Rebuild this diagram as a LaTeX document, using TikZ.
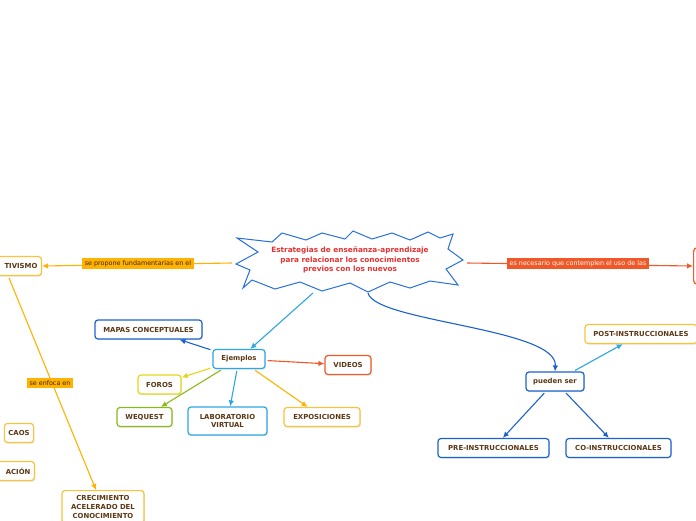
\documentclass[tikz,border=0pt]{standalone}
\usepackage{fontspec}
\setmainfont{DejaVu Sans}
\definecolor{mmblue}{RGB}{28,98,206}
\definecolor{mmsky}{RGB}{44,166,230}
\definecolor{mmorange}{RGB}{255,178,0}
\definecolor{mmgold}{RGB}{248,196,60}
\definecolor{mmred}{RGB}{240,88,40}
\definecolor{mmyellow}{RGB}{228,214,30}
\definecolor{mmgreen}{RGB}{138,184,30}
\definecolor{mmbrown}{RGB}{92,56,20}
\definecolor{mmtitle}{RGB}{228,50,50}
\definecolor{mmcloud}{RGB}{40,112,218}
\usetikzlibrary{arrows.meta,positioning,shadows}

\begin{document}
\begin{tikzpicture}[x=1pt,y=-1pt,
  mbox/.style={draw,fill=white,line width=1.2pt,rounded corners=3pt,minimum height=19pt,
    inner xsep=4pt,font=\fontsize{6.9}{8.8}\selectfont\bfseries,text=mmbrown,align=center,
    drop shadow={shadow xshift=0.8pt,shadow yshift=-1.2pt,opacity=0.2}},
  lbl/.style={fill=mmorange,inner xsep=3pt,inner ysep=2.5pt,font=\fontsize{6.4}{7}\selectfont,
    text=mmbrown!70!black},
  arr/.style={-{Latex[length=6pt,width=5.5pt]},line width=1.1pt},
  title/.style={font=\fontsize{7.3}{9.5}\selectfont\bfseries,text=mmtitle,align=center}
]
  \useasboundingbox (0,0) rectangle (696,520);
  \fill[white] (0,0) rectangle (696,520);
  \clip (0,0) rectangle (696,520);

  % central idea
  \draw[mmcloud,line width=1pt,fill=white,line join=miter]
    (237,238) -- (272,242) -- (282,233) -- (306,240) -- (322,233) -- (345,239)
    -- (353,231) -- (372,239) -- (392,233) -- (410,240) -- (428,232) -- (440,238)
    -- (453,234) -- (448,249) -- (463,260) -- (446,269) -- (458,285) -- (430,281)
    -- (410,288) -- (390,282) -- (368,292) -- (350,283) -- (322,291) -- (300,282)
    -- (275,289) -- (252,280) -- (243,288) -- (250,270) -- (236,264) -- (258,252)
    -- cycle;
  \node[title] (cloud) at (350,260) {Estrategias de enseñanza-aprendizaje\\para relacionar los conocimientos\\previos con los nuevos};
  \coordinate (cl) at (232,263);
  \coordinate (cr) at (467,263);
  \coordinate (cb1) at (313,293);
  \coordinate (cb2) at (368,293);

  % left branch
  \node[mbox,draw=mmgold,anchor=east,text width=80pt,align=right] (tiv) at (42,266) {TIVISMO};
  \node[mbox,draw=mmgold] (caos) at (19,433) {CAOS};
  \node[mbox,draw=mmgold,anchor=east,text width=60pt,align=right] (acion) at (35,471) {ACIÓN};
  \node[mbox,draw=mmgold,anchor=north,minimum width=82pt,inner ysep=5pt] (crec) at (103,490) {CRECIMIENTO\\ACELERADO DEL\\CONOCIMIENTO};
  \draw[arr,mmorange] (cl) -- (tiv.east);
  \node[lbl] (propone) at (138,263.5) {se propone fundamentarias en el};
  \coordinate (t1) at (9,278);
  \draw[arr,mmorange] (t1) -- ([xshift=-7pt]crec.north);
  \node[lbl] (enfoca) at (50,383) {se enfoca en};

  % right branch
  \node[draw=mmred,line width=1.2pt,rounded corners=4pt,minimum width=60pt,minimum height=37pt,
    anchor=west] (rbox) at (693,266) {};
  \draw[arr,mmred] (cr) -- (rbox.west);
  \node[lbl,fill=mmred,text=white] (necesario) at (578,263.5) {es necesario que contemplen el uso de las};

  % ejemplos
  \node[mbox,draw=mmsky,minimum width=52pt] (ejem) at (239,359) {Ejemplos};
  \node[mbox,draw=mmblue,minimum width=107pt] (mapas) at (148.5,329.5) {MAPAS CONCEPTUALES};
  \node[mbox,draw=mmred,minimum width=46pt] (videos) at (348,365) {VIDEOS};
  \node[mbox,draw=mmyellow,minimum width=43pt] (foros) at (159.5,384.5) {FOROS};
  \node[mbox,draw=mmgreen,minimum width=55pt] (wequest) at (144.5,417) {WEQUEST};
  \node[mbox,draw=mmsky,minimum width=79pt,minimum height=28pt] (lab) at (227.5,421) {LABORATORIO\\VIRTUAL};
  \node[mbox,draw=mmgold,minimum width=76pt] (expo) at (322,417) {EXPOSICIONES};
  \draw[arr,mmsky] (cb1) -- (ejem);
  \draw[arr,mmblue,shorten <=2pt] (ejem) -- (mapas);
  \draw[arr,mmred,shorten <=2pt] (ejem) -- (videos);
  \draw[arr,mmyellow,shorten <=2pt] (ejem) -- (foros);
  \draw[arr,mmgreen,shorten <=2pt] (ejem) -- (wequest);
  \draw[arr,mmsky,shorten <=2pt] (ejem) -- (lab);
  \draw[arr,mmorange,shorten <=2pt] (ejem) -- (expo);

  % tipos
  \node[mbox,draw=mmblue,minimum width=58pt] (pueden) at (555,381.5) {pueden ser};
  \node[mbox,draw=mmgold,minimum width=112pt] (post) at (641,334) {POST-INSTRUCCIONALES};
  \node[mbox,draw=mmblue,minimum width=111pt] (pre) at (493.5,448) {PRE-INSTRUCCIONALES};
  \node[mbox,draw=mmblue,minimum width=105pt] (co) at (618.5,448) {CO-INSTRUCCIONALES};
  \draw[arr,mmblue] (cb2) .. controls (375,322) and (558,328) .. (pueden.north);
  \draw[arr,mmsky,shorten <=2pt] (pueden) -- (post);
  \draw[arr,mmblue,shorten <=2pt] (pueden) -- (pre);
  \draw[arr,mmblue,shorten <=2pt] (pueden) -- (co);
\end{tikzpicture}
\end{document}
